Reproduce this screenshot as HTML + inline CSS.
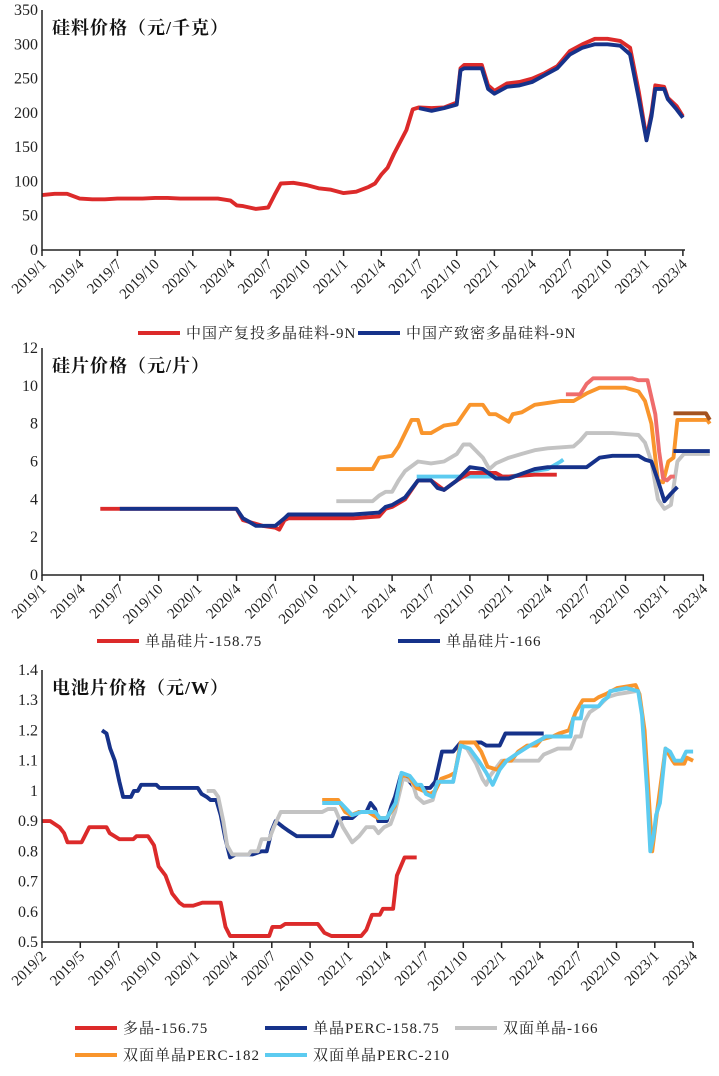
<!DOCTYPE html>
<html><head><meta charset="utf-8"><style>
html,body{margin:0;padding:0;background:#fff}
svg text{font-family:"Liberation Serif","Noto Serif CJK SC",serif}
</style></head><body>
<svg id="s" width="719" height="1071" viewBox="0 0 719 1071" xmlns="http://www.w3.org/2000/svg"></svg>
<script>
// ---------- Chart 1 data (months from 2019/1) ----------
const c1Ticks=["2019/1","2019/4","2019/7","2019/10","2020/1","2020/4","2020/7","2020/10","2021/1","2021/4","2021/7","2021/10","2022/1","2022/4","2022/7","2022/10","2023/1","2023/4"];
const c1YTicks=[0,50,100,150,200,250,300,350];
const c1RedM=[0,1,2,3,4,5,6,7,8,9,10,11,12,13,14,15,15.5,16,17,18,18.5,19,20,21,22,23,24,25,26,26.5,27,27.5,28,29,29.5,30,31,32,33,33.3,33.6,35,35.5,36,37,38,39,40,41,42,43,44,45,46,46.8,47.5,48.1,48.5,48.8,49.5,49.8,50.5,51];
const c1RedV=[80,82,82,75,74,74,75,75,75,76,76,75,75,75,75,72,65,64,60,62,80,97,98,95,90,88,83,85,92,97,110,120,140,175,205,208,207,208,215,265,270,270,240,232,243,245,250,258,268,290,300,308,308,305,295,230,163,200,240,238,222,210,195];
const c1BlueM=[30,31,32,33,33.3,33.6,35,35.5,36,37,38,39,40,41,42,43,44,45,46,46.5,46.8,47.5,48.1,48.5,48.8,49.5,49.8,50.5,51];
const c1BlueV=[207,203,207,212,262,265,265,235,228,238,240,245,255,265,285,295,300,300,298,290,285,220,160,195,235,235,220,205,193];

// ---------- Chart 2 data ----------
const c2Ticks=c1Ticks;
const c2YTicks=[0,2,4,6,8,10,12];
const c2RedM=[4.5,15,15.5,16,17,18,18.3,18.7,19,24,26,26.5,27,28,29,30,31,32,33,35,35.5,36,38,39.7];
const c2RedV=[3.5,3.5,2.9,2.8,2.6,2.5,2.4,2.9,3.0,3.0,3.1,3.5,3.6,4.0,5.0,5.0,4.5,5.0,5.4,5.4,5.2,5.2,5.3,5.3];
const c2BlueM=[6,15,15.5,16,16.5,18,18.7,19,24,26,26.5,27,28,29,30,30.5,31,32,33,34,35,36,38,39,42,43,44,46,46.5,47,47.5,48,48.5,49];
const c2BlueV=[3.5,3.5,3.0,2.8,2.6,2.6,3.0,3.2,3.2,3.3,3.6,3.7,4.1,5.0,5.0,4.6,4.5,5.0,5.7,5.6,5.1,5.1,5.6,5.7,5.7,6.2,6.3,6.3,6.1,6.0,5.0,3.9,4.3,4.65];
const c2Blue2M=[48.7,51.5];
const c2Blue2V=[6.55,6.55];
const c2GrayM=[22.7,25.5,26,26.5,27,27.5,28,29,30,31,32,32.5,33,34,34.5,35,36,37,38,39,41,41.5,42,44,46,46.5,47,47.5,48,48.5,49,49.5,51.5];
const c2GrayV=[3.9,3.9,4.2,4.4,4.4,5.0,5.5,6.0,5.9,6.0,6.4,6.9,6.9,6.2,5.6,5.9,6.2,6.4,6.6,6.7,6.8,7.1,7.5,7.5,7.4,7.0,6.0,4.0,3.5,3.7,6.0,6.4,6.4];
const c2OrangeM=[22.7,25.5,26,27,27.5,28,28.5,29,29.3,30,31,32,32.5,33,34,34.5,35,36,36.3,37,38,39,40,41,42,43,45,46,46.5,47,47.5,47.9,48.3,48.7,49,51.3,51.5];
const c2OrangeV=[5.6,5.6,6.2,6.3,6.8,7.5,8.2,8.2,7.5,7.5,7.9,8.0,8.5,9.0,9.0,8.5,8.5,8.1,8.5,8.6,9.0,9.1,9.2,9.2,9.6,9.9,9.9,9.7,9.2,8.0,5.0,4.9,6.0,6.2,8.2,8.2,8.0];
const c2PinkM=[40.4,41.5,42,42.5,45.5,46,46.7,47.3,47.6,47.9,48.2,48.5,48.8];
const c2PinkV=[9.55,9.55,10.1,10.4,10.4,10.3,10.3,8.5,6.5,5.1,5.0,5.2,5.2];
const c2BrownM=[48.7,51.2,51.5];
const c2BrownV=[8.55,8.55,8.2];
const c2CyanM=[28.9,36,37,38,39,40,40.2];
const c2CyanV=[5.2,5.2,5.3,5.5,5.6,6.0,6.1];

// ---------- Chart 3 data (months from 2019/2) ----------
const c3Ticks=["2019/2","2019/5","2019/7","2019/10","2020/1","2020/4","2020/7","2020/10","2021/1","2021/4","2021/7","2021/10","2022/1","2022/4","2022/7","2022/10","2023/1","2023/4"];
const c3YTicks=[0.5,0.6,0.7,0.8,0.9,1,1.1,1.2,1.3,1.4];
const c3RedM=[0,0.65,1,1.37,1.73,2,3.1,3.7,5.05,5.3,6.06,7.15,7.4,8.3,8.77,9.13,9.67,10.2,10.76,11.1,11.84,12.56,14,14.37,14.73,17.8,18.05,18.7,19.06,21.6,22.13,22.67,25,25.4,25.85,26.46,26.7,27.5,27.8,28.4,29.35];
const c3RedV=[.90,.90,.89,.88,.86,.83,.83,.88,.88,.86,.84,.84,.85,.85,.82,.75,.72,.66,.63,.62,.62,.63,.63,.55,.52,.52,.55,.55,.56,.56,.53,.52,.52,.54,.59,.59,.61,.61,.72,.78,.78];
const c3BlueM=[4.7,5.05,5.34,5.7,6.06,6.35,6.97,7.2,7.5,7.76,8.95,9.2,12.2,12.5,12.9,13.2,13.65,14,14.37,14.73,15.16,16.5,17.2,17.6,18,18.3,18.9,19.24,19.96,22.74,23.2,23.57,24.3,24.84,25.4,25.74,26.1,26.35,27,27.37,27.65,28.1,28.6,29.2,30.4,30.8,31.33,32.2,32.8,34.4,34.8,35.85,36.3,39.3];
const c3BlueV=[1.20,1.19,1.14,1.10,1.03,.98,.98,1.00,1.00,1.02,1.02,1.01,1.01,.99,.98,.97,.97,.92,.84,.78,.79,.79,.80,.80,.87,.90,.88,.87,.85,.85,.90,.91,.91,.93,.93,.96,.94,.90,.90,.95,.98,1.05,1.04,1.01,1.01,1.03,1.13,1.13,1.16,1.16,1.15,1.15,1.19,1.19];
const c3GrayM=[12.9,13.47,13.8,14.2,14.5,14.9,16.2,16.35,16.9,17.2,17.8,18.16,18.7,21.95,22.4,22.96,23.57,24.3,24.84,25.4,26,26.35,26.8,27.3,27.65,28.27,29,29.35,29.9,30.6,31,32.2,32.8,33.3,34,34.5,34.8,35.1,36,37.1,38.9,39.3,40.4,41.4,41.8,42.2,42.5,42.9,43.6,44.3,45.05,46.5];
const c3GrayV=[1.00,1.00,.98,.90,.82,.79,.79,.80,.80,.84,.84,.88,.93,.93,.94,.94,.88,.83,.85,.88,.88,.86,.88,.89,.93,1.04,1.03,.98,.96,.97,1.03,1.03,1.15,1.14,1.09,1.04,1.02,1.05,1.10,1.10,1.10,1.12,1.14,1.14,1.18,1.18,1.23,1.26,1.28,1.31,1.32,1.33];
const c3OrangeM=[21.95,23.2,23.75,24.2,24.84,25.56,26.3,27,27.65,28.16,28.7,29.35,29.9,30.4,30.8,31.26,31.9,32.35,32.8,33.9,34.4,34.9,35.67,36.2,36.75,37.3,38,38.7,39.1,40,40.5,41.26,41.8,42.35,43.25,43.6,44.15,45.05,46.5,46.8,47.2,47.8,48.2,48.84,49.4,49.57,50.3,50.5,51];
const c3OrangeV=[.97,.97,.93,.92,.93,.93,.91,.91,.95,1.05,1.05,1.01,1.00,.99,1.00,1.04,1.05,1.06,1.16,1.16,1.13,1.08,1.07,1.10,1.10,1.13,1.15,1.15,1.17,1.18,1.19,1.20,1.26,1.30,1.30,1.31,1.32,1.34,1.35,1.32,1.20,.80,.94,1.14,1.10,1.09,1.09,1.11,1.10];
const c3CyanM=[21.95,23.4,24.3,25,26.1,26.46,27,27.7,28.16,28.8,29.35,29.7,30.07,30.6,31,32.2,32.8,33.5,34.2,34.8,35.3,35.85,36.4,37.1,38.2,39.1,39.45,41.4,41.6,42.2,42.35,43.6,43.97,44.33,44.5,45.8,46.7,47,47.4,47.65,47.9,48.1,48.4,48.84,49.2,49.57,50.1,50.45,51];
const c3CyanV=[.96,.96,.92,.93,.93,.91,.91,.96,1.06,1.05,1.02,1.02,.99,.98,1.03,1.03,1.15,1.14,1.10,1.06,1.02,1.07,1.10,1.12,1.15,1.17,1.18,1.18,1.24,1.24,1.28,1.28,1.30,1.31,1.33,1.34,1.33,1.25,1.00,.80,.85,.92,.96,1.14,1.13,1.10,1.10,1.13,1.13];

const NS="http://www.w3.org/2000/svg";
const svg=document.getElementById('s');
function mk(tag,attrs,parent){const e=document.createElementNS(NS,tag);for(const k in attrs)e.setAttribute(k,attrs[k]);(parent||svg).appendChild(e);return e;}

function chart(cfg){
  const g=mk('g',{});
  
  
  const X=m=>cfg.x0+m*cfg.mpx;
  const Y=v=>cfg.yb-(v-cfg.ymin)/(cfg.ymax-cfg.ymin)*(cfg.yb-cfg.yt);
  cfg.yticks.forEach(v=>{
    const t=mk('text',{x:cfg.x0-4,y:Y(v)+5,'text-anchor':'end','font-size':16,fill:'#222'},g);
    
    
    t.textContent=String(v);
  });
  cfg.xticks.forEach((lab,i)=>{
    const x=X(i*3);
    const tk=mk('line',{x1:x,x2:x,y1:cfg.yb,y2:cfg.yb+6,stroke:'#222','stroke-width':1.5},g);
    
    
    const t=mk('text',{x:x+5,y:cfg.yb+15,'text-anchor':'end','font-size':15,fill:'#222',transform:`rotate(-45 ${x+5} ${cfg.yb+15})`},g);
    
    
    t.textContent=lab;
  });
  cfg.series.forEach(s=>{
    const d=s.m.map((m,i)=>(i?'L':'M')+X(m).toFixed(1)+','+Y(s.v[i]).toFixed(1)).join(' ');
    const p=mk('path',{d:d,fill:'none',stroke:s.c,'stroke-width':3.9,'stroke-linejoin':'round'},g);
    
    
  });
  const ax=mk('path',{d:`M${cfg.x0},${cfg.yt} V${cfg.yb} H${cfg.x1}`,fill:'none',stroke:'#222','stroke-width':1.5},g);
  
  
  const tt=mk('text',{x:cfg.x0+10,y:cfg.yt+24,'font-size':18,'font-weight':'bold','letter-spacing':1,fill:'#111','font-family':'"Noto Serif CJK SC","Noto Sans CJK SC",serif'},g);
  
  
  tt.textContent=cfg.title;
  cfg.legend.forEach(l=>{
    const ln=mk('line',{x1:l.x,x2:l.x+42,y1:l.y,y2:l.y,stroke:l.c,'stroke-width':4},g);
    
    
    const t=mk('text',{x:l.x+48,y:l.y+5,'font-size':15,'letter-spacing':1,fill:'#222'},g);
    
    
    t.textContent=l.t;
  });
}
const RED='#dc2a2a',NAVY='#16328a',GRAY='#c3c3c3',ORANGE='#f9952c',CYAN='#5ccbf0',PINK='#ef6c6c',BROWN='#a4521f';
chart({name:'silicon-material-chart',x0:42,x1:685,mpx:37.7/3,yt:10,yb:250,ymin:0,ymax:350,yticks:c1YTicks,xticks:c1Ticks,title:'硅料价格（元/千克）',
 series:[{n:'series-fu-tou',m:c1RedM,v:c1RedV,c:RED},{n:'series-zhi-mi',m:c1BlueM,v:c1BlueV,c:NAVY}],
 legend:[{x:138,y:333,c:RED,t:'中国产复投多晶硅料-9N'},{x:358,y:333,c:NAVY,t:'中国产致密多晶硅料-9N'}]});
chart({name:'wafer-chart',x0:42,x1:704,mpx:38.9/3,yt:348,yb:575,ymin:0,ymax:12,yticks:c2YTicks,xticks:c2Ticks,title:'硅片价格（元/片）',
 series:[{n:'series-gray',m:c2GrayM,v:c2GrayV,c:GRAY},{n:'series-orange',m:c2OrangeM,v:c2OrangeV,c:ORANGE},{n:'series-pink',m:c2PinkM,v:c2PinkV,c:PINK},{n:'series-brown',m:c2BrownM,v:c2BrownV,c:BROWN},{n:'series-cyan',m:c2CyanM,v:c2CyanV,c:CYAN},{n:'series-158',m:c2RedM,v:c2RedV,c:RED},{n:'series-166',m:c2BlueM,v:c2BlueV,c:NAVY},{n:'series-166-b',m:c2Blue2M,v:c2Blue2V,c:NAVY}],
 legend:[{x:97,y:641,c:RED,t:'单晶硅片-158.75'},{x:398,y:641,c:NAVY,t:'单晶硅片-166'}]});
chart({name:'cell-chart',x0:42,x1:693,mpx:38.3/3,yt:670,yb:942,ymin:0.5,ymax:1.4,yticks:c3YTicks,xticks:c3Ticks,title:'电池片价格（元/W）',
 series:[{n:'series-poly',m:c3RedM,v:c3RedV,c:RED},{n:'series-mono-perc',m:c3BlueM,v:c3BlueV,c:NAVY},{n:'series-bifacial-166',m:c3GrayM,v:c3GrayV,c:GRAY},{n:'series-perc-182',m:c3OrangeM,v:c3OrangeV,c:ORANGE},{n:'series-perc-210',m:c3CyanM,v:c3CyanV,c:CYAN}],
 legend:[{x:75,y:1028,c:RED,t:'多晶-156.75'},{x:265,y:1028,c:NAVY,t:'单晶PERC-158.75'},{x:455,y:1028,c:GRAY,t:'双面单晶-166'},{x:75,y:1055,c:ORANGE,t:'双面单晶PERC-182'},{x:265,y:1055,c:CYAN,t:'双面单晶PERC-210'}]});
</script>
</body></html>
